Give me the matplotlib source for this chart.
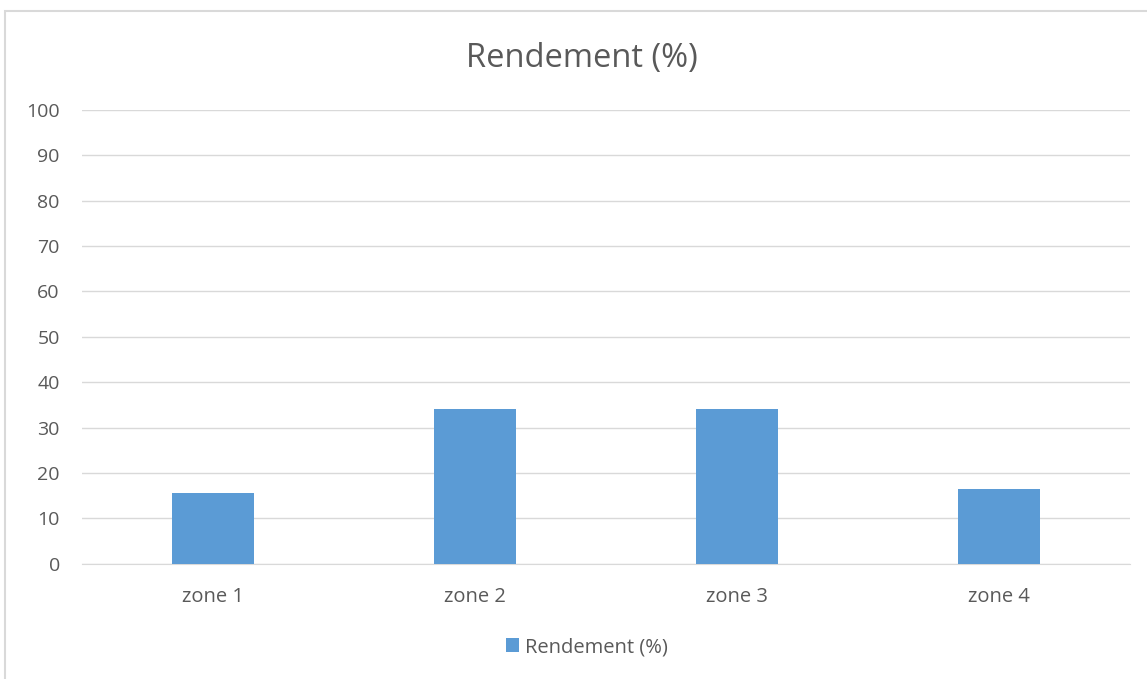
import matplotlib
matplotlib.use('Agg')
import matplotlib.pyplot as plt
from matplotlib.patches import Rectangle

# Data
zones = ['zone 1', 'zone 2', 'zone 3', 'zone 4']
rendement = [15.5, 34.0, 34.0, 16.4]
y_ticks = [0, 10, 20, 30, 40, 50, 60, 70, 80, 90, 100]

plt.rcParams['font.family'] = ['Open Sans', 'DejaVu Sans']

fig = plt.figure(figsize=(11.47, 6.79), dpi=100)
ax = fig.add_axes([82/1147, 1 - 563.7/679, 1048/1147, (563.7 - 110)/679])

# outer chart border (partly cut off on the right and bottom)
fig.patches.append(Rectangle((5/1147, -0.1), 1.2, 1 - 11/679 + 0.1,
                             transform=fig.transFigure, fill=False,
                             edgecolor='#d9d9d9', lw=1.5))

x = range(len(zones))
ax.bar(x, rendement, width=0.313, color='#5b9bd5', zorder=3,
       label='Rendement (%)')

ax.set_xlim(-0.5, 3.5)
ax.set_ylim(0, 100)
ax.set_yticks(y_ticks)
ax.set_xticks(list(x))
ax.set_xticklabels(zones)
ax.grid(axis='y', color='#d9d9d9', lw=1, zorder=0)
for s in ['top', 'right', 'left']:
    ax.spines[s].set_visible(False)
ax.spines['bottom'].set_color('#d9d9d9')
ax.tick_params(axis='both', length=0, colors='#595959')
ax.tick_params(axis='x', pad=17, labelsize=14.5)
ax.tick_params(axis='y', pad=16, labelsize=14)

fig.text(582/1147, 1 - 58/679, 'Rendement (%)', ha='center', va='center',
         fontsize=23.5, color='#595959')

leg = ax.legend(loc='center', bbox_to_anchor=(587/1147, 1 - 647/679),
                bbox_transform=fig.transFigure, frameon=False, fontsize=14.5,
                handlelength=0.65, handleheight=0.65, handletextpad=0.3)
for t in leg.get_texts():
    t.set_color('#595959')

plt.savefig('out.png', dpi=100)
